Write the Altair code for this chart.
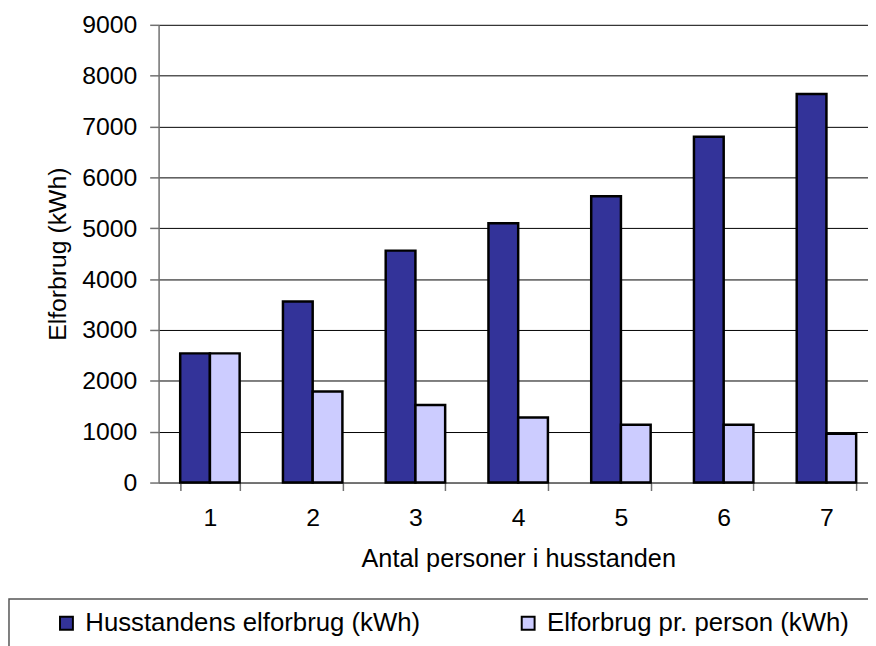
import altair as alt
import pandas as pd

persons = ["1", "2", "3", "4", "5", "6", "7"]
household = [2540, 3560, 4560, 5100, 5630, 6800, 7640]
per_person = [2540, 1790, 1525, 1280, 1135, 1135, 960]
series = ["Husstandens elforbrug (kWh)", "Elforbrug pr. person (kWh)"]
colors = ["#333399", "#CCCCFF"]
y_ticks = list(range(0, 9001, 1000))

rows = []
for p, h, q in zip(persons, household, per_person):
    rows.append({"persons": p, "series": series[0], "value": h})
    rows.append({"persons": p, "series": series[1], "value": q})
df = pd.DataFrame(rows)

FONT = "Liberation Sans"
FS = 25

bars = alt.Chart(df).mark_bar(stroke="black", strokeWidth=2.5).encode(
    x=alt.X(
        "persons:N",
        sort=persons,
        scale=alt.Scale(paddingInner=0.4214, paddingOuter=0.1627, align=0.646),
        axis=alt.Axis(
            title="Antal personer i husstanden",
            labelAngle=0,
            tickBand="extent",
            grid=False,
            tickSize=8,
            labelPadding=35,
            labelBaseline="alphabetic",
            titleX=363,
            titleY=85,
            titleBaseline="alphabetic",
            titleFontSize=25.5,
        ),
    ),
    xOffset=alt.XOffset(
        "series:N",
        sort=series,
        scale=alt.Scale(domain=series, paddingInner=0, paddingOuter=0),
    ),
    y=alt.Y(
        "value:Q",
        scale=alt.Scale(domain=[0, 9000], nice=False),
        axis=alt.Axis(
            title="Elforbrug (kWh)",
            values=y_ticks,
            format="d",
            grid=True,
            tickSize=9,
            labelPadding=13,
            titleX=-94,
            titleY=231,
            titleBaseline="alphabetic",
            titleFontSize=25,
        ),
    ),
    color=alt.Color(
        "series:N",
        scale=alt.Scale(domain=series, range=colors),
        legend=alt.Legend(
            orient="none",
            legendX=-106,
            legendY=591,
            direction="horizontal",
            title=None,
            labelFont=FONT,
            labelFontSize=26,
            labelLimit=800,
            labelColor="black",
            symbolType="square",
            symbolSize=169,
            symbolStrokeColor="black",
            symbolStrokeWidth=2,
            labelOffset=6,
            columnPadding=95,
            padding=0,
        ),
    ),
)

frame = alt.Chart(pd.DataFrame({"k": [0]})).mark_rect(
    fillOpacity=0, stroke="#555555", strokeWidth=1.5
).encode(
    x=alt.value(-151),
    x2=alt.value(760),
    y=alt.value(579.5),
    y2=alt.value(700),
)

chart = (
    alt.layer(frame, bars)
    .properties(
        width=716,
        height=462,
        autosize=alt.AutoSizeParams(type="none"),
        padding={"left": 152, "top": 14, "right": 0, "bottom": 162},
    )
    .configure_view(stroke=None)
    .configure_axis(
        labelFont=FONT,
        titleFont=FONT,
        labelFontSize=FS,
        titleFontWeight="normal",
        labelColor="black",
        titleColor="black",
        domainColor="#707070",
        domainWidth=1.5,
        tickColor="#707070",
        tickWidth=1.5,
        gridColor="black",
        gridWidth=1,
        gridOpacity=1,
    )
)

chart.save("out.html", embed_options={"renderer": "svg", "actions": False})
